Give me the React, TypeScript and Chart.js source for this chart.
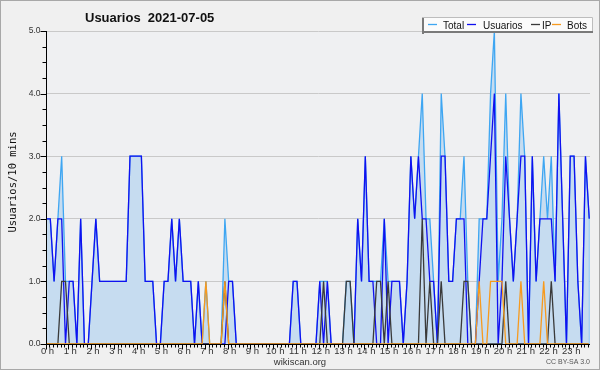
import React, { useEffect, useRef } from "react";
import { Chart, registerables } from "chart.js";

Chart.register(...registerables);

// 144 ten-minute slots (00:00 .. 23:50)
const usuarios = [
  2, 2, 1, 2, 2, 0, 1, 1, 0, 2, 0, 0,
  1, 2, 1, 1, 1, 1, 1, 1, 1, 1, 3, 3,
  3, 3, 1, 1, 1, 0, 0, 1, 1, 2, 1, 2,
  1, 1, 1, 0, 1, 0, 0, 0, 0, 0, 0, 0,
  1, 1, 0, 0, 0, 0, 0, 0, 0, 0, 0, 0,
  0, 0, 0, 0, 0, 1, 1, 0, 0, 0, 0, 0,
  1, 0, 1, 0, 0, 0, 0, 0, 0, 0, 2, 1,
  3, 1, 1, 0, 0, 2, 0, 1, 1, 1, 0, 1,
  3, 2, 3, 2, 2, 1, 1, 0, 3, 3, 1, 1,
  2, 2, 2, 0, 0, 0, 1, 2, 2, 3, 4, 0,
  1, 3, 2, 1, 2, 3, 3, 0, 3, 1, 2, 2,
  2, 2, 1, 4, 2, 0, 3, 3, 1, 0, 3, 2,
];

const ip = [
  0, 0, 0, 0, 1, 1, 0, 0, 0, 0, 0, 0,
  0, 0, 0, 0, 0, 0, 0, 0, 0, 0, 0, 0,
  0, 0, 0, 0, 0, 0, 0, 0, 0, 0, 0, 0,
  0, 0, 0, 0, 0, 0, 0, 0, 0, 0, 0, 1,
  0, 0, 0, 0, 0, 0, 0, 0, 0, 0, 0, 0,
  0, 0, 0, 0, 0, 0, 0, 0, 0, 0, 0, 0,
  0, 1, 0, 0, 0, 0, 0, 1, 1, 0, 0, 0,
  0, 0, 0, 1, 1, 0, 1, 0, 0, 0, 0, 0,
  0, 0, 0, 2, 0, 1, 0, 0, 1, 0, 0, 0,
  0, 0, 1, 1, 0, 0, 0, 0, 0, 0, 0, 0,
  0, 1, 0, 0, 0, 0, 0, 0, 0, 0, 0, 0,
  0, 1, 0, 0, 0, 0, 0, 0, 0, 0, 0, 0,
];

const bots = [
  0, 0, 0, 0, 0, 0, 0, 0, 0, 0, 0, 0,
  0, 0, 0, 0, 0, 0, 0, 0, 0, 0, 0, 0,
  0, 0, 0, 0, 0, 0, 0, 0, 0, 0, 0, 0,
  0, 0, 0, 0, 0, 0, 1, 0, 0, 0, 0, 1,
  0, 0, 0, 0, 0, 0, 0, 0, 0, 0, 0, 0,
  0, 0, 0, 0, 0, 0, 0, 0, 0, 0, 0, 0,
  0, 0, 0, 0, 0, 0, 0, 0, 0, 0, 0, 0,
  0, 0, 0, 0, 0, 0, 0, 0, 0, 0, 0, 0,
  0, 0, 0, 0, 0, 0, 0, 0, 0, 0, 0, 0,
  0, 0, 0, 0, 0, 0, 1, 0, 0, 1, 1, 1,
  1, 0, 0, 0, 0, 1, 0, 0, 0, 0, 0, 1,
  0, 0, 0, 0, 0, 0, 0, 0, 0, 0, 0, 0,
];

const total = [
  2, 2, 1, 2, 3, 1, 1, 1, 0, 2, 0, 0,
  1, 2, 1, 1, 1, 1, 1, 1, 1, 1, 3, 3,
  3, 3, 1, 1, 1, 0, 0, 1, 1, 2, 1, 2,
  1, 1, 1, 0, 1, 0, 1, 0, 0, 0, 0, 2,
  1, 1, 0, 0, 0, 0, 0, 0, 0, 0, 0, 0,
  0, 0, 0, 0, 0, 1, 1, 0, 0, 0, 0, 0,
  1, 1, 1, 0, 0, 0, 0, 1, 1, 0, 2, 1,
  3, 1, 1, 1, 1, 2, 1, 1, 1, 1, 0, 1,
  3, 2, 3, 4, 2, 2, 1, 0, 4, 3, 1, 1,
  2, 2, 3, 1, 0, 0, 2, 2, 2, 4, 5, 1,
  2, 4, 2, 1, 2, 4, 3, 0, 3, 1, 2, 3,
  2, 3, 1, 4, 2, 0, 3, 3, 1, 0, 3, 2,
];

const hourLabels = [
  "0 h", "1 h", "2 h", "3 h", "4 h", "5 h", "6 h", "7 h", "8 h", "9 h", "10 h", "11 h",
  "12 h", "13 h", "14 h", "15 h", "16 h", "17 h", "18 h", "19 h", "20 h", "21 h", "22 h", "23 h",
];
const yTickValues = [0, 1, 2, 3, 4, 5];
const seriesNames = ["Total", "Usuarios", "IP", "Bots"];
const seriesColors = ["#3ea6f2", "#1010f0", "#3a3a3a", "#f79a1e"];

const titleText = "Usuarios  2021-07-05";
const yTitle = "Usuarios/10 mins";
const footer = "wikiscan.org";
const license = "CC BY-SA 3.0";

const SLOTS_PER_HOUR = 6;

const toXY = (arr: number[]) => arr.map((v, i) => ({ x: i, y: v }));

const bgPlugin = {
  id: "bg",
  beforeDraw(chart: any) {
    const { ctx, chartArea: a, width, height } = chart;
    ctx.save();
    ctx.fillStyle = "#f0f0f0";
    ctx.fillRect(0, 0, width, height);
    ctx.fillStyle = "#eff0f2";
    ctx.fillRect(a.left, a.top, a.right - a.left, a.bottom - a.top);
    ctx.restore();
  },
};

const decorPlugin = {
  id: "decor",
  afterDatasetsDraw(chart: any) {
    // closing edge of the Total area at the last slot
    const { ctx } = chart;
    const xs = chart.scales.x;
    const ys = chart.scales.y;
    const last = total.length - 1;
    ctx.save();
    ctx.strokeStyle = "#8cc4f2";
    ctx.lineWidth = 1;
    ctx.beginPath();
    ctx.moveTo(xs.getPixelForValue(last), ys.getPixelForValue(total[last]));
    ctx.lineTo(xs.getPixelForValue(last), ys.getPixelForValue(0));
    ctx.stroke();
    ctx.restore();
  },
  afterDraw(chart: any) {
    const { ctx, chartArea: a, width, height } = chart;
    const xs = chart.scales.x;
    const ys = chart.scales.y;
    ctx.save();

    // axes
    ctx.strokeStyle = "#000";
    ctx.lineWidth = 1;
    ctx.beginPath();
    const ax = Math.round(a.left) - 0.5;
    const ay = Math.round(a.bottom) + 0.5;
    ctx.moveTo(ax, a.top);
    ctx.lineTo(ax, ay);
    ctx.lineTo(a.right, ay);
    ctx.stroke();

    // y ticks (major at integers, minor at quarters)
    ctx.beginPath();
    for (let q = 0; q <= 20; q++) {
      const v = q / 4;
      const py = Math.round(ys.getPixelForValue(v)) + 0.5;
      const len = q % 4 === 0 ? 6 : 4;
      ctx.moveTo(ax - len, py);
      ctx.lineTo(ax, py);
    }
    // x ticks (every slot, longer at hours)
    for (let i = 0; i <= 24 * SLOTS_PER_HOUR; i++) {
      const px = Math.round(xs.getPixelForValue(i)) - 0.5;
      if (px > a.right + 1) break;
      const len = i % SLOTS_PER_HOUR === 0 ? 5 : 3;
      ctx.moveTo(px, ay);
      ctx.lineTo(px, ay + len);
    }
    ctx.stroke();

    // y labels
    ctx.fillStyle = "#333";
    ctx.font = '8.5px "Liberation Sans"';
    ctx.textAlign = "right";
    ctx.textBaseline = "middle";
    yTickValues.forEach((v) => {
      ctx.fillText(v.toFixed(1), ax - 6, ys.getPixelForValue(v));
    });

    // x labels
    ctx.font = '9.5px "Liberation Sans"';
    ctx.textAlign = "center";
    ctx.textBaseline = "top";
    hourLabels.forEach((lab, h) => {
      ctx.fillText(lab, xs.getPixelForValue(h * SLOTS_PER_HOUR) + 1, ay + 2.5);
    });

    // footer
    ctx.fillStyle = "#333";
    ctx.font = '9.5px "Liberation Sans"';
    ctx.fillText(footer, 300, 357.5);
    ctx.font = '7px "Liberation Sans"';
    ctx.textAlign = "right";
    ctx.fillStyle = "#555";
    ctx.fillText(license, 590, 359);

    // title
    ctx.fillStyle = "#111";
    ctx.font = 'bold 13px "Liberation Sans"';
    ctx.textAlign = "left";
    ctx.textBaseline = "alphabetic";
    ctx.fillText(titleText, 85, 21.5);

    // y title
    ctx.save();
    ctx.translate(13, 182);
    ctx.rotate(-Math.PI / 2);
    ctx.textAlign = "center";
    ctx.textBaseline = "middle";
    ctx.fillStyle = "#111";
    ctx.font = '10.5px "DejaVu Sans Mono"';
    ctx.fillText(yTitle, 0, 0);
    ctx.restore();

    // legend box
    const lx = 422, lyTop = 17, lr = 593, lb = 33;
    ctx.fillStyle = "#fbfbfb";
    ctx.fillRect(lx, lyTop, lr - lx, lb - lyTop);
    ctx.strokeStyle = "#bdbdbd";
    ctx.beginPath();
    ctx.moveTo(lx, lyTop + 0.5);
    ctx.lineTo(lr - 0.5, lyTop + 0.5);
    ctx.lineTo(lr - 0.5, lb);
    ctx.stroke();
    ctx.fillStyle = "#7a7a7a";
    ctx.fillRect(lx, lyTop + 1, 2, lb - lyTop);
    ctx.fillRect(lx, lb - 2, lr - lx, 2);

    ctx.font = '10px "Liberation Sans"';
    ctx.textBaseline = "alphabetic";
    ctx.textAlign = "left";
    const lineX = [428, 467, 531, 552];
    const textX = [443, 483, 542, 567];
    seriesNames.forEach((name, k) => {
      ctx.strokeStyle = seriesColors[k];
      ctx.lineWidth = 1.3;
      ctx.beginPath();
      ctx.moveTo(lineX[k], 24.5);
      ctx.lineTo(lineX[k] + 9, 24.5);
      ctx.stroke();
      ctx.fillStyle = "#111";
      ctx.fillText(name, textX[k], 28.5);
    });

    // outer border
    ctx.strokeStyle = "#a8a8a8";
    ctx.lineWidth = 1;
    ctx.strokeRect(0.5, 0.5, width - 1, height - 1);
    ctx.restore();
  },
};

export default function App() {
  const ref = useRef<HTMLCanvasElement | null>(null);
  useEffect(() => {
    if (!ref.current) return;
    const chart = new Chart(ref.current, {
      type: "line",
      data: {
        datasets: [
          {
            label: seriesNames[0],
            data: toXY(total),
            borderColor: seriesColors[0],
            backgroundColor: "#c6dcf0",
            fill: "origin",
            order: 4,
          },
          {
            label: seriesNames[1],
            data: toXY(usuarios),
            borderColor: seriesColors[1],
            fill: false,
            order: 3,
          },
          {
            label: seriesNames[2],
            data: toXY(ip),
            borderColor: seriesColors[2],
            fill: false,
            order: 2,
          },
          {
            label: seriesNames[3],
            data: toXY(bots),
            borderColor: seriesColors[3],
            fill: false,
            order: 1,
          },
        ],
      },
      options: {
        animation: false,
        responsive: false,
        devicePixelRatio: 1,
        layout: { padding: { top: 31, right: 10, left: 0, bottom: 0 } },
        plugins: {
          legend: { display: false },
          tooltip: { enabled: false },
          title: { display: false },
        },
        elements: {
          point: { radius: 0, hoverRadius: 0 },
          line: { tension: 0, borderWidth: 1.3 },
        },
        scales: {
          x: {
            type: "linear",
            min: 0,
            max: 143.2,
            grid: { display: false },
            border: { display: false },
            ticks: { display: false },
            afterFit: (s: any) => {
              s.height = 26;
            },
          },
          y: {
            min: 0,
            max: 5,
            grid: {
              drawTicks: false,
              color: (c: any) =>
                c.tick && c.tick.value > 0 ? "#c9c9c9" : "rgba(0,0,0,0)",
            },
            border: { display: false },
            ticks: { display: false, stepSize: 1 },
            afterFit: (s: any) => {
              s.width = 46.5;
            },
          },
        },
      },
      plugins: [bgPlugin, decorPlugin],
    });
    return () => chart.destroy();
  }, []);

  return (
    <div style={{ position: "fixed", left: 0, top: 0, width: 600, height: 370 }}>
      <canvas ref={ref} width={600} height={370} style={{ display: "block" }} />
    </div>
  );
}
